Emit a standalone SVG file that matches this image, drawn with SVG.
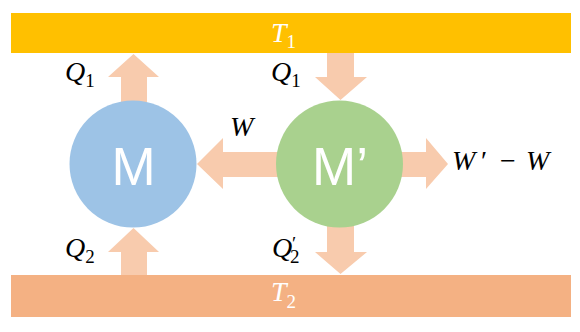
<svg xmlns="http://www.w3.org/2000/svg" width="580" height="332" viewBox="0 0 580 332">
<style>
.arrow{fill:#F8CBAD;}
.math{font-family:"Liberation Serif","DejaVu Serif",serif;font-style:italic;font-size:28px;fill:#000;}
.sub{font-style:normal;font-size:19px;}
.up{font-style:normal;}
.white{fill:#FFFFFF;}
.big{font-family:"Liberation Sans",Arial,sans-serif;font-size:53px;fill:#FFFFFF;text-anchor:middle;}
</style>
<rect width="580" height="332" fill="#FFFFFF"/>
<g id="T1">
<rect x="11" y="13" width="560" height="40" fill="#FFC000"/>
<text class="math white" x="271" y="42">T<tspan class="sub" dy="6">1</tspan></text>
</g>
<g id="T2">
<rect x="11" y="275" width="560" height="42" fill="#F4B183"/>
<text class="math white" x="271" y="301">T<tspan class="sub" dy="7">2</tspan></text>
</g>
<g id="connectors">
<polygon class="arrow" points="133.5,54 159,77 147,77 147,102 121,102 121,77 108,77"/>
<polygon class="arrow" points="327,53 354,53 354,77 367,77 340.5,100 315,77 327,77"/>
<polygon class="arrow" points="197,164 223,138 223,152 285,152 285,177 223,177 223,189"/>
<polygon class="arrow" points="395,152 426,152 426,138 448,164 426,189 426,177 395,177"/>
<polygon class="arrow" points="133.5,228 159,252 147,252 147,275 121,275 121,252 108,252"/>
<polygon class="arrow" points="327,220 354,220 354,252 367,252 340.5,274 315,252 327,252"/>
<text class="math" x="65" y="81">Q<tspan class="sub" dy="6">1</tspan></text>
<text class="math" x="271" y="81">Q<tspan class="sub" dy="6">1</tspan></text>
<text class="math" x="230" y="136">W</text>
<text class="math" x="452" y="170">W<tspan class="up" x="481">′</tspan><tspan class="up" x="500">−</tspan><tspan x="526">W</tspan></text>
<text class="math" x="65" y="257">Q<tspan class="sub" dy="6">2</tspan></text>
<text class="math" x="272" y="257">Q<tspan class="sub" x="292" dy="-7">′</tspan><tspan class="sub" x="290" dy="13">2</tspan></text>
</g>
<g id="M">
<circle cx="133" cy="164" r="63.5" fill="#9DC3E6"/>
<text class="big" x="133.5" y="185">M</text>
</g>
<g id="Mprime">
<circle cx="339.5" cy="164" r="63.5" fill="#A9D18E"/>
<text class="big" x="340" y="185">M’</text>
</g>
</svg>
